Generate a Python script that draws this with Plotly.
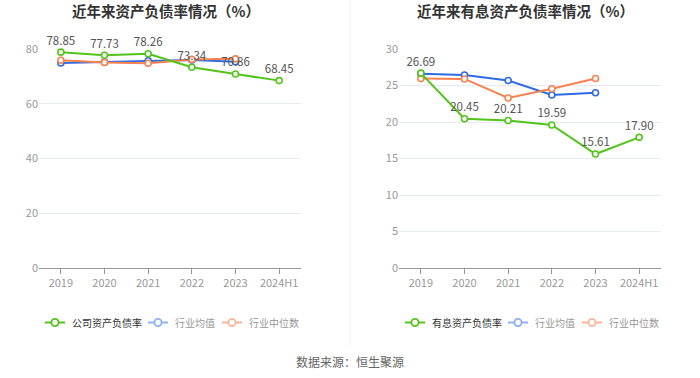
import plotly.graph_objects as go

years = ["2019", "2020", "2021", "2022", "2023", "2024H1"]
company_debt = [78.85, 77.73, 78.26, 73.34, 70.86, 68.45]
industry_avg_debt = [74.9, 75.2, 75.7, 76.0, 75.3]
industry_med_debt = [75.9, 75.1, 74.8, 76.2, 76.4]

interest_debt = [26.69, 20.45, 20.21, 19.59, 15.61, 17.90]
industry_avg_int = [26.62, 26.44, 25.68, 23.69, 24.0]
industry_med_int = [25.95, 25.9, 23.29, 24.55, 25.95]

legend_left = ["公司资产负债率", "行业均值", "行业中位数"]
legend_right = ["有息资产负债率", "行业均值", "行业中位数"]

GREEN = "#52c41a"
BLUE = "#2f6be3"
ORANGE = "#f8814f"
LBLUE = "#8fb0f0"
LORANGE = "#f8b69a"
FONT = "Noto Sans CJK SC"

W, H = 700, 378


def px(x):
    return x / W


def py(y):
    return 1 - y / H


fig = go.Figure()


def add_series(x, y, color, xa, ya, labels=False):
    fig.add_trace(go.Scatter(
        x=x, y=y, xaxis=xa, yaxis=ya,
        mode="lines+markers+text" if labels else "lines+markers",
        line=dict(color=color, width=2),
        marker=dict(symbol="circle", size=6, color="white", line=dict(color=color, width=1.6)),
        text=[f"{v:.2f}" for v in y] if labels else None,
        textposition="top center",
        textfont=dict(size=11.5, color="#555555", family=FONT),
        showlegend=False, hoverinfo="skip", cliponaxis=False,
    ))


add_series(years[:5], industry_avg_debt, BLUE, "x", "y")
add_series(years[:5], industry_med_debt, ORANGE, "x", "y")
add_series(years, company_debt, GREEN, "x", "y", labels=True)

add_series(years[:5], industry_avg_int, BLUE, "x2", "y2")
add_series(years[:5], industry_med_int, ORANGE, "x2", "y2")
add_series(years, interest_debt, GREEN, "x2", "y2", labels=True)

xcommon = dict(type="category", showline=True, linecolor="#999999", linewidth=1,
               ticks="outside", ticklen=5, tickcolor="#999999",
               tickfont=dict(size=11, color="#999999", family=FONT),
               showgrid=False, zeroline=False, range=[-0.5, 5.5], fixedrange=True,
               automargin=False)
ycommon = dict(showline=False, gridcolor="#e6eaf2", gridwidth=1, zeroline=False,
               tickfont=dict(size=11, color="#999999", family=FONT), ticks="",
               fixedrange=True, automargin=False)

shapes = [dict(type="line", xref="paper", yref="paper", x0=px(350), x1=px(350),
               y0=py(345), y1=py(0), line=dict(color="#eeeeee", width=1))]
annotations = []

legend_specs = [
    (legend_left, [(45, 70), (148, 173), (222, 247)]),
    (legend_right, [(405, 430), (508, 533), (582, 607)]),
]
legend_colors = [GREEN, LBLUE, LORANGE]
legend_text_colors = ["#333333", "#999999", "#999999"]
LY = 322.5
for names, pos in legend_specs:
    for name, (ix, tx), col, tcol in zip(names, pos, legend_colors, legend_text_colors):
        shapes.append(dict(type="line", xref="paper", yref="paper",
                           x0=px(ix), x1=px(ix + 20), y0=py(LY), y1=py(LY),
                           line=dict(color=col, width=2)))
        r = 3.6
        shapes.append(dict(type="circle", xref="paper", yref="paper",
                           x0=px(ix + 10 - r), x1=px(ix + 10 + r),
                           y0=py(LY + r), y1=py(LY - r),
                           fillcolor="white", line=dict(color=col, width=1.8)))
        annotations.append(dict(text=name, x=px(tx), y=py(LY), xref="paper", yref="paper",
                                showarrow=False, xanchor="left", yanchor="middle",
                                font=dict(size=10, color=tcol, family=FONT)))

annotations += [
    dict(text="<b>近年来资产负债率情况（%）</b>", x=px(166), y=py(11), xref="paper", yref="paper",
         showarrow=False, font=dict(size=14.5, color="#333333", family=FONT), xanchor="center", yanchor="middle"),
    dict(text="<b>近年来有息资产负债率情况（%）</b>", x=px(525), y=py(11), xref="paper", yref="paper",
         showarrow=False, font=dict(size=14.5, color="#333333", family=FONT), xanchor="center", yanchor="middle"),
    dict(text="数据来源：恒生聚源", x=px(350), y=py(361), xref="paper", yref="paper",
         showarrow=False, font=dict(size=12, color="#666666", family=FONT), xanchor="center", yanchor="middle"),
]

fig.update_layout(
    width=W, height=H,
    margin=dict(l=0, r=0, t=0, b=0, pad=0, autoexpand=False),
    paper_bgcolor="white", plot_bgcolor="white",
    font=dict(family=FONT),
    showlegend=False,
    hovermode=False,
    xaxis=dict(domain=[px(39), px(301)], anchor="y", **xcommon),
    yaxis=dict(domain=[py(268), py(49)], anchor="x", range=[0, 80], dtick=20, **ycommon),
    xaxis2=dict(domain=[px(399), px(661)], anchor="y2", **xcommon),
    yaxis2=dict(domain=[py(268), py(49)], anchor="x2", range=[0, 30], dtick=5, **ycommon),
    shapes=shapes,
    annotations=annotations,
)

fig.write_html("out.html", config={"displayModeBar": False, "staticPlot": True},
               post_script="document.body.style.margin='0';")
